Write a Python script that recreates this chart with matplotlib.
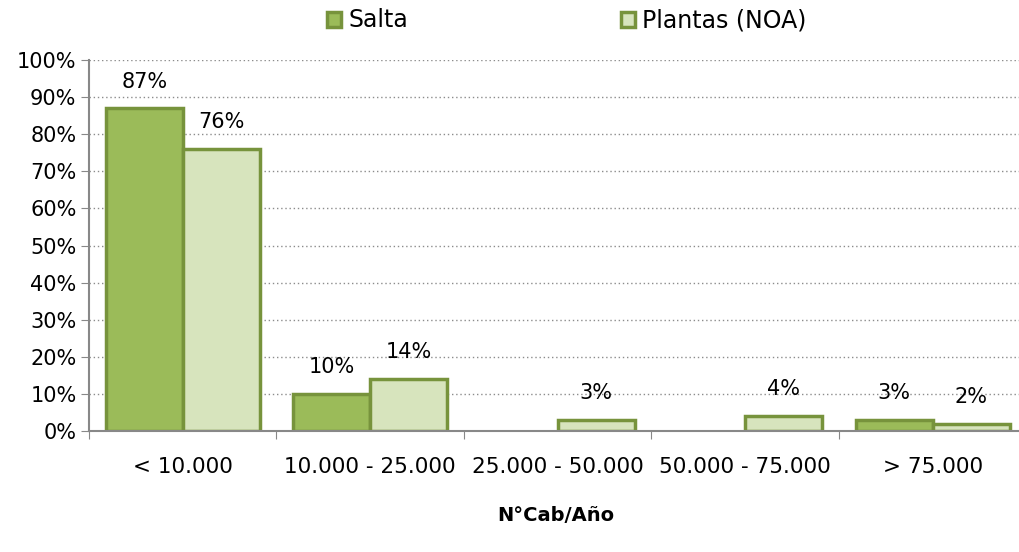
import numpy as np
import matplotlib.pyplot as plt
from matplotlib.patches import Patch

# Data
categories = ['< 10.000', '10.000 - 25.000', '25.000 - 50.000', '50.000 - 75.000', '> 75.000']
salta = [0.87, 0.10, 0.0, 0.0, 0.03]
plantas = [0.76, 0.14, 0.03, 0.04, 0.02]
series_names = ['Salta', 'Plantas (NOA)']

plt.rcParams['font.family'] = ['DejaVu Sans']
edge = '#77933C'
c_salta = '#9BBB59'
c_plantas = '#D7E4BD'

fig = plt.figure(figsize=(10.19, 5.52), dpi=100)
ax = fig.add_axes([0.0873, 0.2192, 0.92, 0.672])

x = np.arange(len(categories))
w = 0.41
b1 = ax.bar(x - w / 2, salta, w, color=c_salta, edgecolor=edge, linewidth=2.5)
b2 = ax.bar(x + w / 2, plantas, w, color=c_plantas, edgecolor=edge, linewidth=2.5)

# value labels; zero bars are not drawn at all
for bars, vals in ((b1, salta), (b2, plantas)):
    for r, v in zip(bars, vals):
        if v > 0:
            ax.text(r.get_x() + r.get_width() / 2, v + 0.045, f'{v:.0%}',
                    ha='center', va='bottom', fontsize=15)
        else:
            r.set_visible(False)

ax.set_xlim(-0.5, len(categories) - 0.5)
ax.set_ylim(0, 1)
ax.set_yticks(np.arange(0, 1.01, 0.1))
ax.set_yticklabels([f'{int(round(t * 100))}%' for t in np.arange(0, 1.01, 0.1)], fontsize=15)
ax.yaxis.grid(True, linestyle=(0, (1, 2)), color='#8c8c8c', linewidth=1)
ax.set_axisbelow(True)

ax.set_xticks(np.arange(-0.5, len(categories), 1))
ax.set_xticklabels([])
ax.set_xticks(x, minor=True)
ax.set_xticklabels(categories, minor=True, fontsize=15.5)
ax.tick_params(axis='x', which='minor', length=0, pad=19)
ax.tick_params(axis='x', which='major', length=6, color='#888888', direction='out')
ax.tick_params(axis='y', length=6, color='#888888', direction='out', pad=3)

for s in ('top', 'right'):
    ax.spines[s].set_visible(False)
for s in ('left', 'bottom'):
    ax.spines[s].set_color('#888888')
    ax.spines[s].set_linewidth(1.5)

fig.text(0.545, 0.067, 'N°Cab/Año', ha='center', va='center', fontsize=14, fontweight='bold')

handles = [Patch(facecolor=c_salta, edgecolor=edge, linewidth=2.5),
           Patch(facecolor=c_plantas, edgecolor=edge, linewidth=2.5)]
fig.legend(handles, series_names, loc='center', bbox_to_anchor=(0.556, 0.963), ncol=2,
           frameon=False, fontsize=17, handlelength=0.6, handleheight=0.6,
           handletextpad=0.3, columnspacing=9)

plt.savefig('out.png', dpi=100)
